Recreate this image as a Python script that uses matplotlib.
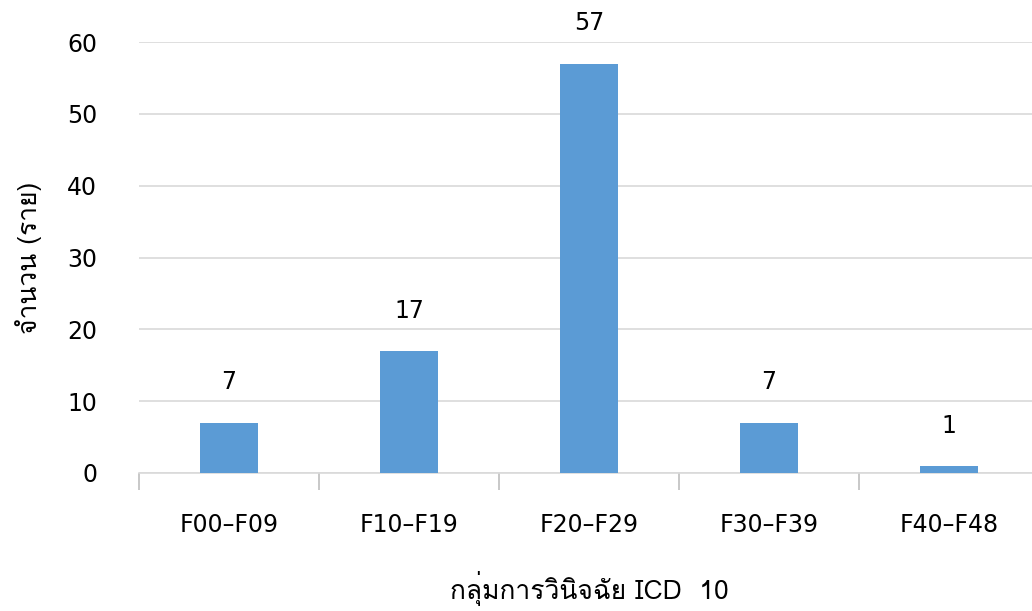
import matplotlib
matplotlib.use('Agg')
import matplotlib.pyplot as plt
from matplotlib import font_manager
from matplotlib.ft2font import FT2Font
import numpy as np

# data
categories = ['F00–F09', 'F10–F19', 'F20–F29', 'F30–F39', 'F40–F48']
counts = [7, 17, 57, 7, 1]
ylabel = 'จำนวน (ราย)'
xlabel = 'กลุ่มการวินิจฉัย ICD  10'

# find a font that has Thai glyphs
thai_family = None
for f in font_manager.fontManager.ttflist:
    try:
        if 0x0E01 in FT2Font(f.fname).get_charmap():
            thai_family = f.name
            break
    except Exception:
        pass
plt.rcParams['font.family'] = ['DejaVu Sans']
thai_fams = ['DejaVu Sans']
if thai_family:
    thai_fams = [thai_family, 'DejaVu Sans']

fig = plt.figure(figsize=(10.32, 6.11), dpi=100)
# axes runs a bit past the right edge, like the cropped original
ax = fig.add_axes([0.1347, 0.226, 0.872, 0.705])

x = np.arange(len(categories))
ax.bar(x, counts, width=0.32, color='#5b9bd5', zorder=3)
for xi, v in zip(x, counts):
    ax.text(xi, v + 5.6, str(v), ha='center', va='center', fontsize=17, clip_on=False)

ax.set_ylim(0, 60)
ax.set_xlim(-0.5, 4.5)
ax.set_yticks(range(0, 61, 10))
ax.yaxis.grid(True, color='#d9d9d9', lw=1.2, zorder=0)
ax.tick_params(axis='y', length=0, labelsize=17, pad=30)

ax.set_xticks(x)
ax.set_xticklabels(categories)
ax.tick_params(axis='x', length=0, labelsize=17, pad=29)
ax.set_xticks(np.arange(-0.5, 5, 1), minor=True)
ax.tick_params(axis='x', which='minor', length=12, color='#bfbfbf', width=1.2)

for s in ['top', 'right', 'left']:
    ax.spines[s].set_visible(False)
ax.spines['bottom'].set_color('#d9d9d9')
ax.spines['bottom'].set_linewidth(1.2)

ax.set_ylabel(ylabel, fontsize=19, labelpad=18, family=thai_fams)
ax.set_xlabel(xlabel, fontsize=19, labelpad=24, family=thai_fams)

fig.savefig('out.png', dpi=100)
